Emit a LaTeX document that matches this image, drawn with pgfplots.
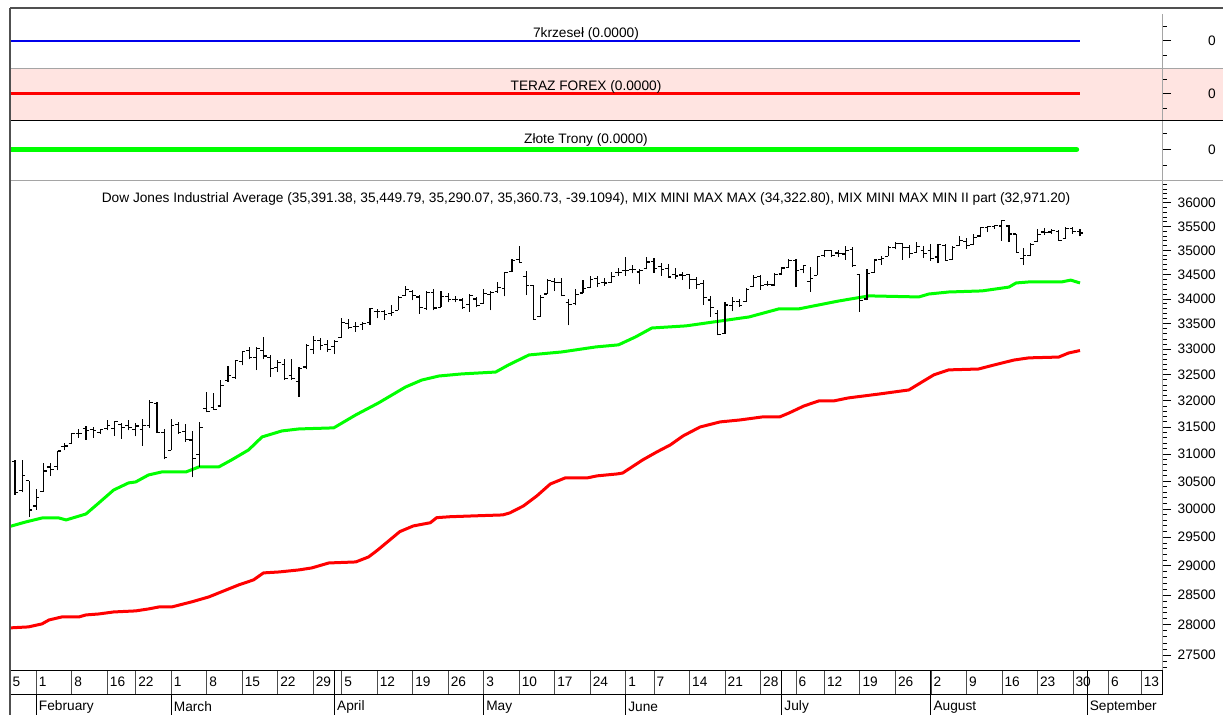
\documentclass[border=0pt]{standalone}
\usepackage{fontspec}
\setmainfont{Liberation Sans}
\usepackage{pgfplots}
\pgfplotsset{compat=1.18}
\usepackage{pgfplotstable}

\definecolor{bl}{RGB}{0,0,235}
\definecolor{rd}{RGB}{255,0,0}
\definecolor{gr}{RGB}{0,255,0}
\definecolor{pinkbg}{RGB}{255,228,225}
\definecolor{framec}{RGB}{80,80,80}
\definecolor{sepc}{RGB}{165,165,165}

\newcommand{\fs}{\fontsize{13.7bp}{15bp}\selectfont}
\def\nanword{nan}

\pgfdeclareplotmark{tickL}{\pgfpathmoveto{\pgfqpoint{-\pgfplotmarksize}{0pt}}\pgfpathlineto{\pgfqpoint{0pt}{0pt}}\pgfusepathqstroke}
\pgfdeclareplotmark{tickR}{\pgfpathmoveto{\pgfqpoint{0pt}{0pt}}\pgfpathlineto{\pgfqpoint{\pgfplotmarksize}{0pt}}\pgfusepathqstroke}

% open and close of each session (x = trading day index)
\pgfplotstableread{
i o c
2 30860 30303
3 30340 30603
4 30510 29983
5 30055 30212
6 30313 30687
7 30760 30724
8 30770 31056
9 31140 31148
10 31200 31386
11 31380 31376
12 31480 31438
13 31460 31431
14 31400 31458
15 31470 31523
16 31480 31613
17 31550 31493
18 31530 31494
19 31460 31522
20 31450 31537
21 31530 31962
22 31950 31402
23 31400 30932
24 31070 31536
25 31550 31392
26 31420 31270
27 31260 30924
28 31000 31496
29 31850 31802
30 31880 31833
31 31900 32297
32 32380 32486
33 32440 32779
34 32760 32953
35 32970 32826
36 32830 33015
37 32980 32862
38 32830 32628
39 32640 32731
40 32700 32423
41 32480 32420
42 32360 32619
43 32650 33073
44 33000 33171
45 33160 33067
46 33090 32982
47 33050 33153
48 33220 33527
49 33510 33430
50 33450 33446
51 33480 33504
52 33520 33801
53 33740 33745
54 33750 33677
55 33710 33731
56 33770 34036
57 34070 34201
58 34150 34078
59 34040 33821
60 33800 34137
61 34130 33816
62 33830 34043
63 34050 33982
64 33990 33985
65 33980 33820
66 33880 34060
67 34000 33875
68 33900 34113
69 34090 34133
70 34150 34230
71 34220 34549
72 34560 34778
73 34800 34743
74 34450 34269
75 34270 33588
76 33640 34021
77 34100 34382
78 34360 34328
79 34340 34061
80 33920 33896
81 33900 34084
82 34120 34208
83 34230 34394
84 34420 34312
85 34330 34323
86 34340 34465
87 34530 34529
88 34580 34575
89 34600 34600
90 34550 34577
91 34620 34756
92 34760 34630
93 34660 34600
94 34630 34447
95 34500 34466
96 34490 34480
97 34500 34394
98 34400 34299
99 34320 34034
100 33980 33823
101 33700 33290
102 33300 33877
103 33870 33946
104 33940 33874
105 33950 34197
106 34250 34434
107 34450 34283
108 34290 34292
109 34280 34503
110 34510 34634
111 34640 34786
112 34790 34577
113 34600 34682
114 34350 34422
115 34480 34870
116 34890 34996
117 34990 34889
118 34940 34933
119 34920 34987
120 35020 34688
121 34500 33962
122 34000 34512
123 34540 34798
124 34810 34823
125 34880 35062
126 35060 35144
127 35140 35059
128 35050 34931
129 34960 35085
130 35000 34935
131 35000 34838
132 34860 35116
133 35090 34793
134 34810 35064
135 35100 35209
136 35180 35102
137 35120 35265
138 35300 35485
139 35480 35500
140 35490 35515
141 35510 35625
142 35510 35343
143 35340 34961
144 34840 34894
145 34900 35120
146 35180 35336
147 35380 35366
148 35380 35406
149 35400 35213
150 35250 35456
151 35460 35400
152 35391.38 35360.73
}\oc

% low and high of each session, one segment per session
\pgfplotstableread{
i v
2 30260
2 30892
2 nan
3 30300
3 30890
3 nan
4 29856
4 30510
4 nan
5 29990
5 30355
5 nan
6 30313
6 30840
6 nan
7 30596
7 30830
7 nan
8 30700
8 31060
8 nan
9 31071
9 31212
9 nan
10 31180
10 31400
10 nan
11 31300
11 31460
11 nan
12 31270
12 31520
12 nan
13 31300
13 31500
13 nan
14 31370
14 31465
14 nan
15 31440
15 31640
15 nan
16 31340
16 31620
16 nan
17 31280
17 31570
17 nan
18 31440
18 31640
18 nan
19 31330
19 31580
19 nan
20 31150
20 31660
20 nan
21 31490
21 32010
21 nan
22 31390
22 31980
22 nan
23 30900
23 31470
23 nan
24 31070
24 31660
24 nan
25 31370
25 31600
25 nan
26 31230
26 31550
26 nan
27 30570
27 31430
27 nan
28 30760
28 31590
28 nan
29 31780
29 32170
29 nan
30 31830
30 32150
30 nan
31 31900
31 32390
31 nan
32 32360
32 32660
32 nan
33 32420
33 32780
33 nan
34 32680
34 32960
34 nan
35 32800
35 33050
35 nan
36 32590
36 33050
36 nan
37 32800
37 33230
37 nan
38 32450
38 32880
38 nan
39 32550
39 32780
39 nan
40 32400
40 32800
40 nan
41 32400
41 32800
41 nan
42 32070
42 32650
42 nan
43 32600
43 33100
43 nan
44 32900
44 33260
44 nan
45 32980
45 33220
45 nan
46 32950
46 33170
46 nan
47 32900
47 33170
47 nan
48 33220
48 33620
48 nan
49 33400
49 33590
49 nan
50 33340
50 33540
50 nan
51 33380
51 33540
51 nan
52 33480
52 33810
52 nan
53 33610
53 33790
53 nan
54 33580
54 33780
54 nan
55 33660
55 33880
55 nan
56 33770
56 34050
56 nan
57 34060
57 34260
57 nan
58 33970
58 34180
58 nan
59 33700
59 34080
59 nan
60 33780
60 34160
60 nan
61 33770
61 34200
61 nan
62 33830
62 34160
62 nan
63 33930
63 34110
63 nan
64 33930
64 34050
64 nan
65 33800
65 34010
65 nan
66 33740
66 34100
66 nan
67 33830
67 34030
67 nan
68 33900
68 34200
68 nan
69 33770
69 34170
69 nan
70 34120
70 34350
70 nan
71 34050
71 34560
71 nan
72 34550
72 34810
72 nan
73 34730
73 35090
73 nan
74 34080
74 34580
74 nan
75 33580
75 34290
75 nan
76 33640
76 34080
76 nan
77 34100
77 34400
77 nan
78 34160
78 34420
78 nan
79 34050
79 34420
79 nan
80 33470
80 34000
80 nan
81 33870
81 34200
81 nan
82 34110
82 34380
82 nan
83 34230
83 34470
83 nan
84 34240
84 34470
84 nan
85 34270
85 34420
85 nan
86 34330
86 34550
86 nan
87 34470
87 34630
87 nan
88 34470
88 34850
88 nan
89 34520
89 34700
89 nan
90 34300
90 34600
90 nan
91 34600
91 34850
91 nan
92 34530
92 34830
92 nan
93 34470
93 34730
93 nan
94 34440
94 34720
94 nan
95 34400
95 34630
95 nan
96 34380
96 34560
96 nan
97 34200
97 34500
97 nan
98 34210
98 34440
98 nan
99 33880
99 34380
99 nan
100 33640
100 34050
100 nan
101 33270
101 33770
101 nan
102 33300
102 33930
102 nan
103 33750
103 34030
103 nan
104 33840
104 34000
104 nan
105 33940
105 34220
105 nan
106 34250
106 34480
106 nan
107 34190
107 34480
107 nan
108 34260
108 34360
108 nan
109 34270
109 34520
109 nan
110 34500
110 34650
110 nan
111 34640
111 34820
111 nan
112 34240
112 34820
112 nan
113 34520
113 34700
113 nan
114 34150
114 34650
114 nan
115 34480
115 34890
115 nan
116 34860
116 35010
116 nan
117 34860
117 35000
117 nan
118 34850
118 35000
118 nan
119 34800
119 35090
119 nan
120 34650
120 35070
120 nan
121 33740
121 34500
121 nan
122 33970
122 34610
122 nan
123 34540
123 34820
123 nan
124 34700
124 34880
124 nan
125 34880
125 35080
125 nan
126 35020
126 35170
126 nan
127 34800
127 35150
127 nan
128 34840
128 35100
128 nan
129 34960
129 35170
129 nan
130 34840
130 35080
130 nan
131 34780
131 35140
131 nan
132 34730
132 35130
132 nan
133 34780
133 35130
133 nan
134 34800
134 35080
134 nan
135 35090
135 35290
135 nan
136 35030
136 35250
136 nan
137 35110
137 35340
137 nan
138 35290
138 35500
138 nan
139 35380
139 35510
139 nan
140 35450
140 35530
140 nan
141 35200
141 35630
141 nan
142 35170
142 35530
142 nan
143 34950
143 35350
143 nan
144 34690
144 35050
144 nan
145 34870
145 35160
145 nan
146 35170
146 35440
146 nan
147 35330
147 35460
147 nan
148 35350
148 35450
148 nan
149 35200
149 35420
149 nan
150 35250
150 35480
150 nan
151 35340
151 35500
151 nan
152 35290.07
152 35449.79
}\hl

\pgfplotsset{
  panel/.style={
    scale only axis, width=1152bp, xmin=1.3, xmax=163.55,
    anchor=south west,
    axis x line=none, axis y line*=right,
    axis line style={sepc, line width=0.8bp},
    tick align=outside, major tick length=9bp, minor tick length=4.5bp,
    tick style={black, line width=0.9bp},
    xtick=\empty,
    yticklabel style={font=\fs, anchor=east, inner sep=0pt, xshift=45bp},
    title style={font=\fs, at={(0.5,1)}, anchor=center, yshift=-25.5bp},
  },
  smallpanel/.style={panel, ytick={0}, yticklabels={0}, minor ytick={-0.5,0.5}},
}

\begin{document}
\begin{tikzpicture}
\useasboundingbox (0,0) rectangle (1223bp,715bp);
\fill[pinkbg] (10bp,595bp) rectangle (1223bp,647bp);

% panel 1
\begin{axis}[smallpanel, at={(10bp,647bp)}, height=54bp, ymin=-0.941, ymax=0.921,
  title={7krzeseł (0.0000)}]
\addplot[bl, line width=2.2bp] coordinates {(1.3,0) (152,0)};
\end{axis}

% panel 2
\begin{axis}[smallpanel, at={(10bp,595bp)}, height=52bp, ymin=-0.914, ymax=0.879,
  title={TERAZ FOREX (0.0000)}, title style={yshift=1bp}]
\addplot[rd, line width=2.6bp] coordinates {(1.3,0) (152,0)};
\end{axis}

% panel 3
\begin{axis}[smallpanel, at={(10bp,535bp)}, height=60bp, ymin=-0.953, ymax=0.922,
  title={Złote Trony (0.0000)}]
\addplot[gr, line width=5.5bp, line cap=round] coordinates {(1.3,0) (151.5,0)};
\end{axis}

% main panel: logarithmic price scale (through a ln coordinate transform)
\begin{axis}[panel, at={(10bp,45bp)}, height=490bp,
  y coord trafo/.code={%
    \edef\tmpv{#1}%
    \ifx\tmpv\nanword
      \def\pgfmathresult{nan}%
    \else
      \begingroup
      \pgfkeys{/pgf/fpu=true,/pgf/fpu/output format=fixed}%
      \pgfmathparse{ln(#1)-10.2}%
      \pgfmathsmuggle\pgfmathresult
      \endgroup
    \fi},
  ymin=27258, ymax=36497,
  ytick={27500,28000,28500,29000,29500,30000,30500,31000,31500,32000,32500,33000,33500,34000,34500,35000,35500,36000},
  yticklabels={27500,28000,28500,29000,29500,30000,30500,31000,31500,32000,32500,33000,33500,34000,34500,35000,35500,36000},
  minor ytick={27300,27400,27500,27600,27700,27800,27900,28000,28100,28200,28300,28400,28500,28600,28700,28800,28900,29000,29100,29200,29300,29400,29500,29600,29700,29800,29900,30000,30100,30200,30300,30400,30500,30600,30700,30800,30900,31000,31100,31200,31300,31400,31500,31600,31700,31800,31900,32000,32100,32200,32300,32400,32500,32600,32700,32800,32900,33000,33100,33200,33300,33400,33500,33600,33700,33800,33900,34000,34100,34200,34300,34400,34500,34600,34700,34800,34900,35000,35100,35200,35300,35400,35500,35600,35700,35800,35900,36000,36100,36200,36300,36400},
  title={Dow Jones Industrial Average (35,391.38, 35,449.79, 35,290.07, 35,360.73, -39.1094), MIX MINI MAX MAX (34,322.80), MIX MINI MAX MIN II part (32,971.20)},
  title style={yshift=0.5bp}]
\addplot[gr, line width=3bp, line join=round] coordinates {
(1.3,29690) (3.5,29770) (5.8,29841) (8.2,29841) (9.2,29806) (12,29913) (13.8,30109) (15.9,30343) (18,30470) (19,30488) (20.8,30616) (22.7,30671) (26.1,30671) (27.9,30762) (30.7,30762) (32.5,30890) (34.9,31075) (36.8,31316) (39.6,31429) (42,31466) (46.9,31485) (50,31730) (53.2,31957) (57,32263) (59.3,32398) (61.7,32475) (64.9,32514) (69.7,32553) (71.5,32689) (74.4,32884) (79,32943) (83.8,33041) (87,33081) (89.4,33239) (91.7,33417) (96.5,33457) (105.4,33637) (109.6,33798) (112.4,33798) (118,33959) (122.3,34060) (129.3,34040) (130.7,34101) (133.5,34141) (138.2,34162) (142,34243) (143,34325) (144.8,34345) (149.4,34345) (150.7,34386) (152,34322.8)};
\addplot[rd, line width=3bp, line join=round] coordinates {
(1.3,27949) (3.9,27966) (5.8,28016) (6.8,28083) (8.6,28133) (11,28133) (12,28167) (13.8,28183) (15.9,28217) (19,28234) (20.8,28267) (22.3,28301) (24.1,28301) (26.9,28386) (29.3,28470) (31.4,28572) (33.5,28674) (35.6,28760) (37,28880) (39.2,28897) (42,28932) (43.8,28966) (46.2,29052) (50,29070) (51.8,29156) (53.1,29278) (56.2,29600) (58.1,29700) (60.5,29758) (61.4,29847) (63.3,29865) (66.5,29877) (70.7,29895) (71.7,29931) (73.6,30056) (75.5,30235) (77.4,30452) (79.5,30561) (82.6,30561) (84,30598) (86.8,30634) (87.6,30652) (90.4,30890) (92.4,31038) (94.3,31168) (96.1,31335) (98.5,31504) (101.3,31598) (104.1,31635) (107.3,31692) (109.7,31692) (111,31767) (113.1,31900) (115.2,31995) (117.3,31995) (119.4,32053) (123.7,32129) (127.9,32206) (129.3,32321) (131.4,32495) (133.5,32592) (137.7,32611) (139.9,32689) (142.7,32786) (144.8,32825) (149,32845) (150.4,32923) (152,32971.2)};
% OHLC bars: high-low segments, open tick left, close tick right
\addplot[black, line width=1.1bp, unbounded coords=jump] table[x=i, y=v] {\hl};
\addplot[black, line width=1.1bp, only marks, mark=tickL, mark size=3.2bp] table[x=i, y=o] {\oc};
\addplot[black, line width=1.1bp, only marks, mark=tickR, mark size=3.2bp] table[x=i, y=c] {\oc};
\end{axis}

% month row (separators run through both rows)
\begin{axis}[scale only axis, width=1152bp, height=45bp, at={(10bp,0bp)}, anchor=south west,
  xmin=1.3, xmax=163.55, ymin=0, ymax=1, ytick=\empty,
  xtick={5,24,47,68,88,110,131,153},
  xticklabels={February,March,April,May,June,July,August,September},
  xmajorgrids, major tick length=0pt,
  major grid style={black, line width=0.9bp},
  axis line style={draw=none},
  xticklabel style={font=\fs, anchor=west, inner sep=0pt, xshift=2.5bp, yshift=8bp}]
\addplot[draw=none] coordinates {(5,0.5)};
\end{axis}

% date row
\begin{axis}[scale only axis, width=1152bp, height=24bp, at={(10bp,21bp)}, anchor=south west,
  xmin=1.3, xmax=163.55, ymin=0, ymax=1, ytick=\empty,
  xtick={5,10,15,19,24,29,34,39,44,48,53,58,63,68,73,78,83,88,92,97,102,107,112,116,121,126,131,136,141,146,151,156,160.6},
  xticklabels={1,8,16,22,1,8,15,22,29,5,12,19,26,3,10,17,24,1,7,14,21,28,6,12,19,26,2,9,16,23,30,6,13},
  extra x ticks={1.3}, extra x tick labels={5},
  xmajorgrids, major tick length=0pt,
  major grid style={black!70, line width=0.8bp},
  axis line style={black, line width=0.9bp},
  xticklabel style={font=\fs, anchor=west, inner sep=0pt, xshift=2.5bp, yshift=12bp}]
\addplot[draw=none] coordinates {(5,0.5)};
\end{axis}

% frame and separators
\draw[sepc, line width=0.9bp] (10bp,647bp) -- (1223bp,647bp);
\draw[black, line width=0.9bp] (10bp,595bp) -- (1223bp,595bp);
\draw[sepc, line width=0.9bp] (10bp,535bp) -- (1223bp,535bp);
\draw[framec, line width=2bp] (10bp,707bp) -- (1223bp,707bp);
\draw[framec, line width=1.6bp] (10bp,0bp) -- (10bp,707bp);
\end{tikzpicture}
\end{document}
